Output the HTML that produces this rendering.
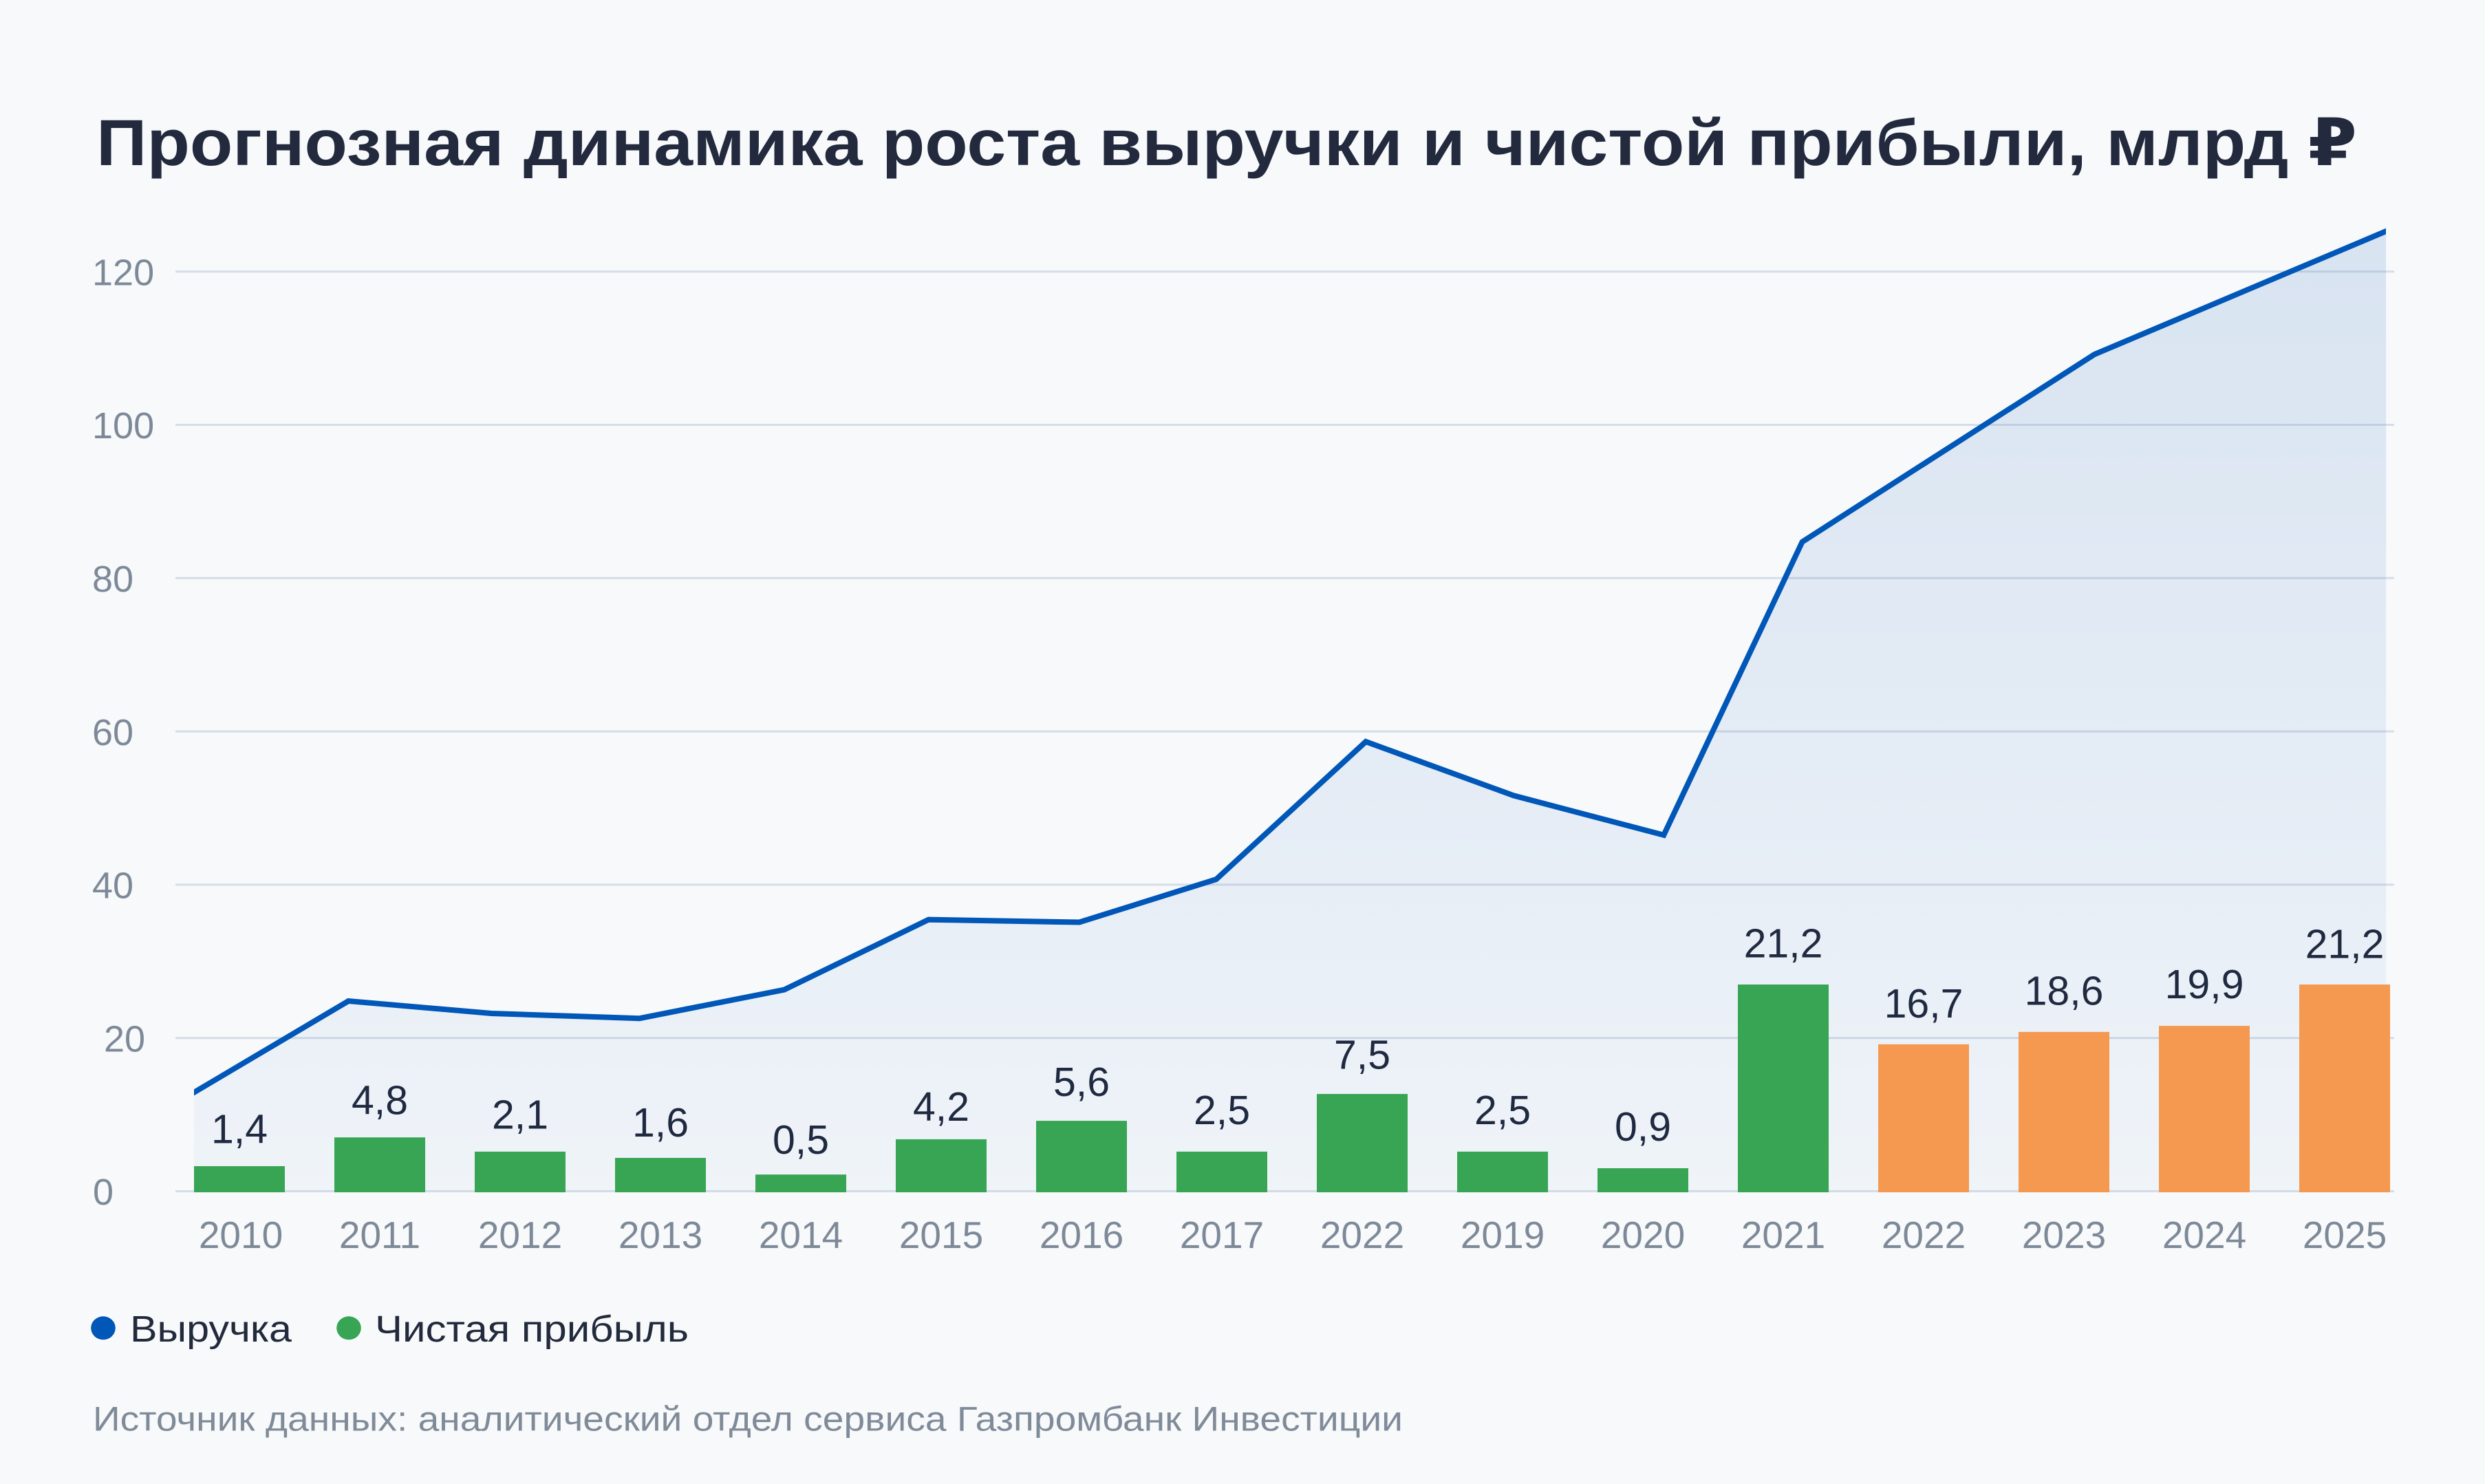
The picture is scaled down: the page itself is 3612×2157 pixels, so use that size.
<!DOCTYPE html>
<html>
<head>
<meta charset="utf-8">
<style>
html,body{margin:0;padding:0;background:#f7f9fb;}
svg{display:block;}
text{font-family:"Liberation Sans","DejaVu Sans",sans-serif;}
</style>
</head>
<body>
<svg width="3612" height="2157" viewBox="0 0 3612 2157" xmlns="http://www.w3.org/2000/svg">
<defs>
<linearGradient id="af" gradientUnits="userSpaceOnUse" x1="0" y1="330" x2="0" y2="1732">
<stop offset="0" stop-color="#1a5fb4" stop-opacity="0.14"/>
<stop offset="0.6" stop-color="#1a5fb4" stop-opacity="0.08"/>
<stop offset="1" stop-color="#1a5fb4" stop-opacity="0.035"/>
</linearGradient>
<clipPath id="cl"><rect x="282" y="250" width="3186" height="1500"/></clipPath>
</defs>
<rect x="0" y="0" width="3612" height="2157" fill="#f7f9fb"/>

<text x="140" y="240" font-size="95" font-weight="bold" fill="#232a3e" textLength="3286" lengthAdjust="spacingAndGlyphs">Прогнозная динамика роста выручки и чистой прибыли, млрд ₽</text>

<g stroke="#d6dde7" stroke-width="3">
<line x1="255" y1="394.7" x2="3480" y2="394.7"/>
<line x1="255" y1="617.5" x2="3480" y2="617.5"/>
<line x1="255" y1="840.3" x2="3480" y2="840.3"/>
<line x1="255" y1="1063.1" x2="3480" y2="1063.1"/>
<line x1="255" y1="1285.9" x2="3480" y2="1285.9"/>
<line x1="255" y1="1508.7" x2="3480" y2="1508.7"/>
<line x1="255" y1="1731.5" x2="3480" y2="1731.5"/>
</g>

<g font-size="54" fill="#7e8998">
<text x="134" y="414.4">120</text>
<text x="134" y="637.2">100</text>
<text x="134" y="860">80</text>
<text x="134" y="1082.8">60</text>
<text x="134" y="1305.6">40</text>
<text x="151" y="1528.4">20</text>
<text x="135" y="1751.2">0</text>
</g>

<polygon fill="url(#af)" points="282.1,1587.8 506.4,1455 714.5,1473 929.6,1480.2 1140,1438.5 1349.7,1336.7 1568.9,1340.5 1767.8,1278.1 1985.2,1078 2200.3,1156.4 2418.3,1213.8 2619.6,787.6 3044.1,515.2 3468.1,336.1 3468.1,1731.5 282.1,1731.5"/>

<g fill="#37a554">
<rect x="282" y="1695" width="132" height="38"/>
<rect x="486" y="1653.2" width="132" height="79.8"/>
<rect x="690" y="1673.9" width="132" height="59.1"/>
<rect x="894" y="1683" width="132" height="50"/>
<rect x="1098" y="1707.2" width="132" height="25.8"/>
<rect x="1302" y="1655.9" width="132" height="77.1"/>
<rect x="1506" y="1629.1" width="132" height="103.9"/>
<rect x="1710" y="1673.9" width="132" height="59.1"/>
<rect x="1914" y="1590.1" width="132" height="142.9"/>
<rect x="2118" y="1673.9" width="132" height="59.1"/>
<rect x="2322" y="1698" width="132" height="35"/>
<rect x="2526" y="1431" width="132" height="302"/>
</g>
<g fill="#f4994f">
<rect x="2730" y="1517.9" width="132" height="215.1"/>
<rect x="2934" y="1499.9" width="132" height="233.1"/>
<rect x="3138" y="1491.1" width="132" height="241.9"/>
<rect x="3342" y="1431" width="132" height="302"/>
</g>

<polyline clip-path="url(#cl)" fill="none" stroke="#0057b8" stroke-width="8" stroke-linejoin="miter" points="270,1594.8 282.1,1587.8 506.4,1455 714.5,1473 929.6,1480.2 1140,1438.5 1349.7,1336.7 1568.9,1340.5 1767.8,1278.1 1985.2,1078 2200.3,1156.4 2418.3,1213.8 2619.6,787.6 3044.1,515.2 3468.1,336.1 3480,331"/>

<g font-size="59" fill="#1f2940" text-anchor="middle">
<text x="348" y="1661.6">1,4</text>
<text x="552" y="1619.5">4,8</text>
<text x="756" y="1640.6">2,1</text>
<text x="960" y="1652.1">1,6</text>
<text x="1164" y="1677">0,5</text>
<text x="1368" y="1629.1">4,2</text>
<text x="1572" y="1592.8">5,6</text>
<text x="1776" y="1634.1">2,5</text>
<text x="1980" y="1553.7">7,5</text>
<text x="2184" y="1634.1">2,5</text>
<text x="2388" y="1657.8">0,9</text>
<text x="2592" y="1391.5">21,2</text>
<text x="2796" y="1478.9">16,7</text>
<text x="3000" y="1460.5">18,6</text>
<text x="3204" y="1450.9">19,9</text>
<text x="3408" y="1392.4">21,2</text>
</g>

<g font-size="55" fill="#7e8998" text-anchor="middle">
<text x="350" y="1814">2010</text>
<text x="552" y="1814">2011</text>
<text x="756" y="1814">2012</text>
<text x="960" y="1814">2013</text>
<text x="1164" y="1814">2014</text>
<text x="1368" y="1814">2015</text>
<text x="1572" y="1814">2016</text>
<text x="1776" y="1814">2017</text>
<text x="1980" y="1814">2022</text>
<text x="2184" y="1814">2019</text>
<text x="2388" y="1814">2020</text>
<text x="2592" y="1814">2021</text>
<text x="2796" y="1814">2022</text>
<text x="3000" y="1814">2023</text>
<text x="3204" y="1814">2024</text>
<text x="3408" y="1814">2025</text>
</g>

<ellipse cx="150" cy="1930.3" rx="17.8" ry="17" fill="#0057b8"/>
<text x="189" y="1950" font-size="54" fill="#222a3c" textLength="235" lengthAdjust="spacingAndGlyphs">Выручка</text>
<ellipse cx="507" cy="1930.3" rx="17.8" ry="17" fill="#37a554"/>
<text x="545" y="1950" font-size="54" fill="#222a3c" textLength="456" lengthAdjust="spacingAndGlyphs">Чистая прибыль</text>

<text x="135" y="2079.3" font-size="50" fill="#808b99" textLength="1904" lengthAdjust="spacingAndGlyphs">Источник данных: аналитический отдел сервиса Газпромбанк Инвестиции</text>
</svg>
</body>
</html>
